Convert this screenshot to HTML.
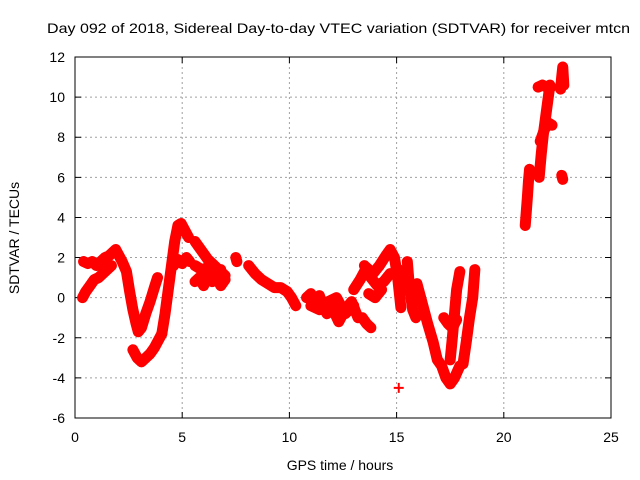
<!DOCTYPE html>
<html><head><meta charset="utf-8">
<style>
html,body{margin:0;padding:0;background:#fff;}
svg{display:block;font-family:"Liberation Sans",sans-serif;}
</style></head>
<body>
<svg id="chart" width="640" height="480">
<text x="47" y="33" font-size="14" textLength="583" lengthAdjust="spacingAndGlyphs">Day 092 of 2018, Sidereal Day-to-day VTEC variation (SDTVAR) for receiver mtcn</text>
<text x="340" y="470" font-size="14" text-anchor="middle">GPS time / hours</text>
<text transform="translate(19,238) rotate(-90)" font-size="14" text-anchor="middle">SDTVAR / TECUs</text>
<g id="grid"></g><g id="ticks"></g><g id="marks"></g>
<rect x="75" y="57" width="536" height="361" fill="none" stroke="#000" stroke-width="1"/>
</svg>
<script>
const xTicks=[0,5,10,15,20,25];
const yTicks=[-6,-4,-2,0,2,4,6,8,10,12];
// data bands (GPS hours, TECU)
const s1x=[0.4,0.6,0.8,1.0,1.2,1.4,1.6,1.8,1.9,2.0,2.2,2.4,2.55,2.7,2.85,2.95,3.1,3.3,3.5,3.7,3.85];
const s1y=[1.8,1.7,1.8,1.6,1.8,2.0,2.1,2.3,2.4,2.2,1.8,1.3,0.3,-0.6,-1.3,-1.7,-1.5,-0.8,-0.2,0.5,1.0];
const s2x=[0.35,0.5,0.7,0.9,1.1,1.3,1.5,1.7];
const s2y=[0.0,0.3,0.6,0.9,1.0,1.2,1.4,1.6];
const s3x=[2.7,2.9,3.1,3.3,3.5,3.7,3.9,4.05];
const s3y=[-2.6,-3.0,-3.2,-3.0,-2.8,-2.5,-2.1,-1.8];
const s4x=[4.05,4.2,4.35,4.5,4.65,4.8,4.95,5.1,5.3];
const s4y=[-1.8,-0.8,0.4,1.6,2.8,3.6,3.7,3.4,3.0];
const s5x=[4.6,4.8,5.0,5.2,5.35];
const s5y=[1.6,1.9,1.7,2.0,1.8];
const s6x=[5.6,5.8,6.0,6.2,6.4,6.6,6.8,7.0];
const s6y=[2.8,2.5,2.2,1.9,1.7,1.5,1.3,1.1];
const s7x=[5.6,5.8,6.0,6.2,6.4,6.6,6.8,7.0];
const s7y=[0.8,1.0,0.6,1.2,0.8,1.0,0.6,0.9];
const s7bx=[5.6,5.9,6.2,6.5,6.8];
const s7by=[1.6,1.4,1.5,1.3,1.4];
const s8x=[7.5,7.55];
const s8y=[2.0,1.8];
const s9x=[8.1,8.4,8.7,9.0,9.3,9.6,9.9,10.1,10.3];
const s9y=[1.6,1.2,0.9,0.7,0.5,0.5,0.3,0.0,-0.4];
const s10x=[10.8,11.0,11.2,11.4,11.6,11.75,12.0,12.3,12.6,12.9,13.2];
const s10y=[0.0,0.2,-0.2,0.1,-0.5,-0.8,-0.5,-1.2,-0.6,-0.2,-1.0];
const s10bx=[11.0,11.4,11.8,12.2,12.6,13.0];
const s10by=[-0.4,-0.6,-0.2,0.0,-0.8,-0.4];
const s11x=[13.4,13.6,13.8];
const s11y=[-1.0,-1.3,-1.5];
const s12x=[13.0,13.3,13.6,13.9,14.2,14.5,14.7,14.9,15.05,15.2];
const s12y=[0.4,0.9,1.5,1.2,1.6,2.1,2.4,2.0,1.0,-0.5];
const s13x=[13.5,13.8,14.1,14.4,14.7];
const s13y=[1.6,1.0,0.6,0.8,1.2];
const s13bx=[13.7,14.0,14.3];
const s13by=[0.2,0.0,0.4];
const s14x=[15.5,15.6,15.75,15.9];
const s14y=[1.8,0.5,-0.6,-1.0];
const s14bx=[15.1,15.25,15.4];
const s14by=[1.4,0.9,0.4];
const s15x=[15.95,16.2,16.45,16.7,16.9,17.1,17.3,17.5,17.7,17.95];
const s15y=[0.7,-0.3,-1.3,-2.2,-3.1,-3.4,-4.0,-4.3,-4.0,-3.4];
const s16x=[17.5,17.6,17.7,17.8,17.95];
const s16y=[-3.1,-2.0,-0.8,0.4,1.3];
const s17x=[18.1,18.25,18.4,18.55,18.65];
const s17y=[-3.3,-2.2,-1.0,0.0,1.4];
const s18x=[17.2,17.4,17.6,17.8];
const s18y=[-1.0,-1.3,-1.5,-1.1];
const s19x=[15.1];
const s19y=[-4.5];
const s20x=[21.0,21.05,21.1,21.15,21.2];
const s20y=[3.6,4.3,5.0,5.8,6.4];
const s21x=[21.65,21.75,21.85,21.95,22.05,22.15];
const s21y=[6.0,7.2,8.2,9.0,9.8,10.6];
const s22x=[21.6,21.8,22.0,22.2];
const s22y=[10.5,10.6,10.5,10.5];
const s23x=[21.7,21.9,22.1,22.25];
const s23y=[7.8,8.4,8.7,8.6];
const s24x=[22.65,22.7,22.75,22.8];
const s24y=[10.4,11.0,11.5,10.6];
const s25x=[22.7,22.75];
const s25y=[6.1,5.9];
const seriesX=[s1x,s2x,s3x,s4x,s5x,s6x,s7x,s7bx,s8x,s9x,s10x,s10bx,s11x,s12x,s13x,s13bx,s14x,s14bx,s15x,s16x,s17x,s18x,s19x,s20x,s21x,s22x,s23x,s24x,s25x];
const seriesY=[s1y,s2y,s3y,s4y,s5y,s6y,s7y,s7by,s8y,s9y,s10y,s10by,s11y,s12y,s13y,s13by,s14y,s14by,s15y,s16y,s17y,s18y,s19y,s20y,s21y,s22y,s23y,s24y,s25y];

const X0=75,X1=611,Y0=418,Y1=57;
const sx=v=>X0+(v-0)/(25-0)*(X1-X0);
const sy=v=>Y0-(v-(-6))/(12-(-6))*(Y0-Y1);
const NS="http://www.w3.org/2000/svg";
const grid=document.getElementById('grid'),ticks=document.getElementById('ticks'),marks=document.getElementById('marks');
xTicks.forEach(t=>{
 const x=sx(t);
 if(t>0&&t<25){const l=document.createElementNS(NS,'line');l.setAttribute('x1',x);l.setAttribute('x2',x);l.setAttribute('y1',Y1);l.setAttribute('y2',Y0);l.setAttribute('stroke','#a0a0a0');l.setAttribute('stroke-dasharray','2,3');
 
 
 grid.appendChild(l);}
 const tk=document.createElementNS(NS,'path');tk.setAttribute('d',`M${x},${Y0}v-6M${x},${Y1}v6`);tk.setAttribute('stroke','#000');
 
 
 ticks.appendChild(tk);
 const tx=document.createElementNS(NS,'text');tx.setAttribute('x',x);tx.setAttribute('y',Y0+24);tx.setAttribute('font-size','14');tx.setAttribute('text-anchor','middle');tx.textContent=t;
 
 
 ticks.appendChild(tx);
});
yTicks.forEach(t=>{
 const y=sy(t);
 if(t>-6&&t<12){const l=document.createElementNS(NS,'line');l.setAttribute('x1',X0);l.setAttribute('x2',X1);l.setAttribute('y1',y);l.setAttribute('y2',y);l.setAttribute('stroke','#a0a0a0');l.setAttribute('stroke-dasharray','2,3');
 
 
 grid.appendChild(l);}
 const tk=document.createElementNS(NS,'path');tk.setAttribute('d',`M${X0},${y}h6M${X1},${y}h-6`);tk.setAttribute('stroke','#000');
 
 
 ticks.appendChild(tk);
 const tx=document.createElementNS(NS,'text');tx.setAttribute('x',X0-10);tx.setAttribute('y',y+5);tx.setAttribute('font-size','14');tx.setAttribute('text-anchor','end');tx.textContent=t;
 
 
 ticks.appendChild(tx);
});
for(let s=0;s<seriesX.length;s++){
 const xa=seriesX[s],ya=seriesY[s];
 if(xa.length>1){
  const pl=document.createElementNS(NS,'polyline');
  pl.setAttribute('points',xa.map((v,i)=>sx(v)+','+sy(ya[i])).join(' '));
  pl.setAttribute('fill','none');pl.setAttribute('stroke','#ff0000');pl.setAttribute('stroke-width','11');
  pl.setAttribute('stroke-linejoin','round');pl.setAttribute('stroke-linecap','round');
  
  
  marks.appendChild(pl);
 }
 for(let i=0;i<xa.length;i++){
  const x=sx(xa[i]),y=sy(ya[i]);
  const p=document.createElementNS(NS,'path');
  p.setAttribute('d',`M${x-5},${y}h10M${x},${y-5}v10`);
  p.setAttribute('stroke','#ff0000');p.setAttribute('stroke-width','2');
  
  
  marks.appendChild(p);
 }
}
</script>
</body></html>
